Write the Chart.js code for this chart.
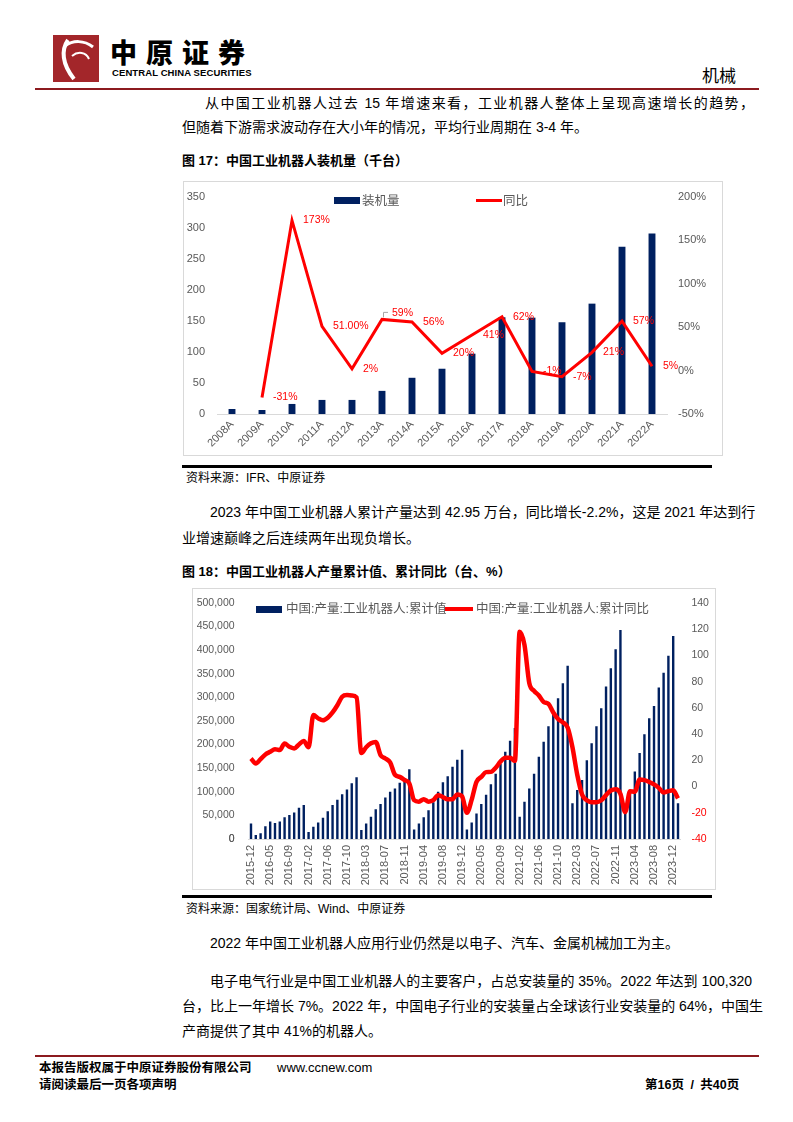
<!DOCTYPE html>
<html>
<head>
<meta charset="utf-8">
<script src="https://cdn.jsdelivr.net/npm/chart.js@4.4.1/dist/chart.umd.min.js"></script>
<style>
  html, body { margin: 0; padding: 0; background: #fff; }
  #page { position: relative; width: 793px; height: 1122px; overflow: hidden; font-family: "Liberation Sans", "Noto Sans CJK SC", sans-serif; color: #000; }
  .abs { position: absolute; white-space: nowrap; }
  .txt { position: absolute; font-size: 14px; line-height: 20px; height: 20px; white-space: nowrap; }
  .just { text-align: justify; text-align-last: justify; }
  .title { position: absolute; font-size: 13px; font-weight: bold; line-height: 18px; white-space: nowrap; }
  .src { position: absolute; font-size: 12px; line-height: 16px; white-space: nowrap; }
  .box { position: absolute; border: 1px solid #d9d9d9; box-sizing: border-box; }
  .rule { position: absolute; background: #000; }
  .leg { position: absolute; font-size: 12.5px; color: #595959; line-height: 16px; white-space: nowrap; }
  canvas { position: absolute; }
</style>
</head>
<body>
<div id="page">
  <!-- header -->
  <svg class="abs" style="left:53px;top:35px" width="46" height="47" viewBox="0 0 46 47">
    <rect width="46" height="47" fill="#a3262a"/>
    <path d="M15 5 C 8 15, 9 29, 21 44" stroke="#fff" stroke-width="4" fill="none"/>
    <path d="M12 11 C 20 5, 31 5, 40 12" stroke="#fff" stroke-width="3" fill="none"/>
    <path d="M19 21 C 25 16, 33 17, 36 24" stroke="#fff" stroke-width="2" fill="none"/>
  </svg>
  <div class="abs" style="left:110px;top:36px;font-family:'Noto Sans CJK SC';font-weight:900;font-size:27px;letter-spacing:9px;line-height:32px">中原证券</div>
  <div class="abs" style="left:112px;top:67px;font-weight:bold;font-size:9.5px;line-height:12px;letter-spacing:0.1px">CENTRAL CHINA SECURITIES</div>
  <div class="abs" style="left:702px;top:65px;font-family:'Noto Sans CJK SC';font-size:17px;line-height:20px">机械</div>
  <div class="abs" style="left:35px;top:88px;width:724px;height:2px;background:#8c1a1f"></div>

  <div class="txt just" style="left:205px;width:549px;top:93px">从中国工业机器人过去 15 年增速来看，工业机器人整体上呈现高速增长的趋势，</div>
  <div class="txt" style="left:182px;top:117px">但随着下游需求波动存在大小年的情况，平均行业周期在 3-4 年。</div>

  <div class="title" style="left:182px;top:152px">图 17：中国工业机器人装机量（千台）</div>
  <div class="box" style="left:183px;top:181px;width:540px;height:275px"></div>
  <canvas id="c1" style="left:184px;top:182px" width="538" height="273"></canvas>
  <div class="abs" style="left:334px;top:197px;width:26px;height:7px;background:#002060"></div>
  <div class="leg" style="left:362px;top:193px">装机量</div>
  <div class="abs" style="left:476px;top:199px;width:26px;height:3px;background:#ff0000"></div>
  <div class="leg" style="left:503px;top:193px">同比</div>
  <div class="rule" style="left:182px;top:465px;width:530px;height:3px"></div>
  <div class="src" style="left:186px;top:470px">资料来源：IFR、中原证券</div>

  <div class="txt just" style="left:210px;width:542px;top:502px">2023 年中国工业机器人累计产量达到 42.95 万台，同比增长-2.2%，这是 2021 年达到行</div>
  <div class="txt" style="left:182px;top:528px">业增速巅峰之后连续两年出现负增长。</div>

  <div class="title" style="left:182px;top:563px">图 18：中国工业机器人产量累计值、累计同比（台、%）</div>
  <div class="box" style="left:192px;top:588px;width:524px;height:302px"></div>
  <canvas id="c2" style="left:193px;top:589px" width="522" height="300"></canvas>
  <div class="abs" style="left:256px;top:606px;width:26px;height:7px;background:#002060"></div>
  <div class="leg" style="left:286px;top:601px">中国:产量:工业机器人:累计值</div>
  <div class="abs" style="left:445px;top:607px;width:28px;height:4px;background:#ff0000"></div>
  <div class="leg" style="left:476px;top:601px">中国:产量:工业机器人:累计同比</div>
  <div class="rule" style="left:182px;top:895px;width:530px;height:3px"></div>
  <div class="src" style="left:186px;top:901px">资料来源：国家统计局、Wind、中原证券</div>

  <div class="txt" style="left:210px;top:933px">2022 年中国工业机器人应用行业仍然是以电子、汽车、金属机械加工为主。</div>
  <div class="txt just" style="left:210px;width:542px;top:971px">电子电气行业是中国工业机器人的主要客户，占总安装量的 35%。2022 年达到 100,320</div>
  <div class="txt just" style="left:182px;width:574px;top:996px">台，比上一年增长 7%。2022 年，中国电子行业的安装量占全球该行业安装量的 64%，中国生</div>
  <div class="txt" style="left:182px;top:1021px">产商提供了其中 41%的机器人。</div>

  <!-- footer -->
  <div class="abs" style="left:35px;top:1055px;width:724px;height:2px;background:#8c1a1f"></div>
  <div class="abs" style="left:39px;top:1060px;font-size:12.5px;line-height:16px;font-weight:bold">本报告版权属于中原证券股份有限公司</div>
  <div class="abs" style="left:277px;top:1060px;font-size:13px;line-height:16px">www.ccnew.com</div>
  <div class="abs" style="left:39px;top:1077px;font-size:12.5px;line-height:16px;font-weight:bold">请阅读最后一页各项声明</div>
  <div class="abs" style="left:645px;top:1077px;font-size:12.5px;line-height:16px;font-weight:bold;word-spacing:3px">第16页 / 共40页</div>
</div>

<script>
// 图17 装机量（千台）与同比
const years = ['2008A','2009A','2010A','2011A','2012A','2013A','2014A','2015A','2016A','2017A','2018A','2019A','2020A','2021A','2022A'];
const installs = [8.1, 6.5, 16.2, 22.7, 22.7, 37.3, 58.4, 73, 97.3, 156, 155.4, 148, 178, 269.6, 291];
const installYoy = [null, -31, 173, 51, 2, 59, 56, 20, 41, 62, -1, -7, 21, 57, 5];
const installYoyText = ['', '-31%', '173%', '51.00%', '2%', '59%', '56%', '20%', '41%', '62%', '-1%', '-7%', '21%', '57%', '5%'];

// 图18 产量累计值（台）与累计同比（%）
const prodMonths = [
  '2015-12',
  '2016-02','2016-03','2016-04','2016-05','2016-06','2016-07','2016-08','2016-09','2016-10','2016-11','2016-12',
  '2017-02','2017-03','2017-04','2017-05','2017-06','2017-07','2017-08','2017-09','2017-10','2017-11','2017-12',
  '2018-02','2018-03','2018-04','2018-05','2018-06','2018-07','2018-08','2018-09','2018-10','2018-11','2018-12',
  '2019-02','2019-03','2019-04','2019-05','2019-06','2019-07','2019-08','2019-09','2019-10','2019-11','2019-12',
  '2020-02','2020-03','2020-04','2020-05','2020-06','2020-07','2020-08','2020-09','2020-10','2020-11','2020-12',
  '2021-02','2021-03','2021-04','2021-05','2021-06','2021-07','2021-08','2021-09','2021-10','2021-11','2021-12',
  '2022-02','2022-03','2022-04','2022-05','2022-06','2022-07','2022-08','2022-09','2022-10','2022-11','2022-12',
  '2023-02','2023-03','2023-04','2023-05','2023-06','2023-07','2023-08','2023-09','2023-10','2023-11','2023-12',
  '2024-02'
];
const prodTotal = [
  33000,
  8500, 12000, 27000, 37000, 34000, 37000, 46000, 51000, 56000, 66000, 72000,
  15000, 26000, 35000, 45000, 59000, 72000, 83000, 95000, 105000, 118000, 131000,
  19000, 33000, 47000, 63000, 74000, 88000, 100000, 107000, 119000, 129000, 148000,
  20000, 33000, 46000, 61000, 78000, 100000, 120000, 133000, 153000, 168000, 189000,
  20000, 35000, 54000, 74000, 94000, 116000, 138000, 159000, 185000, 208000, 235000,
  47000, 79000, 107000, 138000, 174000, 206000, 239000, 270000, 298000, 330000, 367000,
  76000, 104000, 125000, 167000, 203000, 239000, 277000, 323000, 362000, 402000, 443000,
  60000, 103000, 143000, 182000, 222000, 256000, 282000, 321000, 352000, 388000, 430000,
  76000
];
const prodYoy = [
  21.4,
  17.6, 20.9, 24.5, 26.5, 28.5, 27.8, 32.9, 30.3, 29.1, 32.1, 34.7,
  30, 54.5, 52, 50.5, 52.5, 56.5, 62, 68.5, 69.8, 69.5, 68,
  25.5, 30, 33, 34, 24, 21.4, 18.5, 9, 7.4, 5, 2.4,
  -10.4, -11.5, -9.6, -11.5, -10.4, -6.6, -8, -9.6, -9.6, -6, -7.5,
  -20, -10, 3.6, 7.4, 11, 11.2, 14.3, 19, 22, 22, 19.6,
  118, 108, 79, 73, 69.5, 64.5, 63, 56.5, 51.5, 49, 45,
  30, 9, -6, -10.5, -12, -12, -10.5, -6.5, -3, -2, -5.5,
  -19.5, -3.5, -4, 5.4, 4.9, 3.5, 1.6, -1, -4.5, -3.5, -2.8,
  -9
];

const NAVY = '#002060';
const RED = '#ff0000';
const GREY = '#595959';
Chart.defaults.font.family = '"Liberation Sans", "Noto Sans CJK SC", sans-serif';
Chart.defaults.color = GREY;

// keep the plot area where the box says, the labels may hang over it
function fixWidth(w){
  return function(s){ s.width = w; s.paddingTop = 0; s.paddingBottom = 0; };
}

const yoyLabelPlugin = {
  id: 'yoyLabels',
  afterDatasetsDraw(chart) {
    const meta = chart.getDatasetMeta(1);
    const ctx = chart.ctx;
    ctx.save();
    ctx.font = '10.5px "Liberation Sans", sans-serif';
    ctx.fillStyle = RED;
    ctx.textBaseline = 'middle';
    meta.data.forEach(function(pt, i){
      if (!installYoyText[i]) return;
      if (i == 5) {
        ctx.strokeStyle = '#a6a6a6';
        ctx.lineWidth = 1;
        ctx.beginPath();
        ctx.moveTo(pt.x + 1.5, pt.y - 2);
        ctx.lineTo(pt.x + 1.5, pt.y - 7);
        ctx.lineTo(pt.x + 6, pt.y - 7);
        ctx.stroke();
        ctx.fillText(installYoyText[i], pt.x + 10, pt.y - 6);
      } else {
        ctx.fillText(installYoyText[i], pt.x + 11, pt.y);
      }
    });
    ctx.restore();
  }
};

// the bottom "0" of the left axis did not show on chart 2, put it back from the scale itself
const zeroTickPlugin = {
  id: 'zeroTick',
  afterDraw(chart) {
    const s = chart.scales.y;
    const ctx = chart.ctx;
    ctx.save();
    ctx.font = '10.5px "Liberation Sans", sans-serif';
    ctx.fillStyle = GREY;
    ctx.textAlign = 'right';
    ctx.textBaseline = 'middle';
    ctx.fillText('0', s.right - 14, s.getPixelForValue(0));
    ctx.restore();
  }
};

new Chart(document.getElementById('c1'), {
  data: {
    labels: years,
    datasets: [
      { type: 'bar', label: '装机量', data: installs, yAxisID: 'y', backgroundColor: NAVY,
        barPercentage: 0.23, categoryPercentage: 1, order: 2 },
      { type: 'line', label: '同比', data: installYoy, yAxisID: 'y1', borderColor: RED, borderWidth: 3,
        pointRadius: 0, tension: 0, order: 1 }
    ]
  },
  options: {
    responsive: false, animation: false,
    layout: { padding: { top: 15, left: 0, right: 0, bottom: 0 } },
    plugins: { legend: { display: false }, tooltip: { enabled: false } },
    scales: {
      x: { offset: true, grid: { display: false, drawTicks: false }, border: { display: true, color: '#d9d9d9' },
           ticks: { autoSkip: false, minRotation: 45, maxRotation: 45, padding: 4, font: { size: 11 } },
           afterFit: function(s){ s.height = 41; } },
      y: { position: 'left', min: 0, max: 350, grid: { display: false, drawTicks: false }, border: { display: false },
           ticks: { stepSize: 50, padding: 12, autoSkip: false, font: { size: 11 } },
           afterFit: fixWidth(33) },
      y1: { position: 'right', min: -50, max: 200, grid: { display: false, drawTicks: false }, border: { display: false },
            ticks: { stepSize: 50, padding: 11, autoSkip: false, font: { size: 11 }, callback: function(v){ return v + '%'; } },
            afterFit: fixWidth(55) }
    }
  },
  plugins: [yoyLabelPlugin]
});

new Chart(document.getElementById('c2'), {
  data: {
    labels: prodMonths,
    datasets: [
      { type: 'bar', label: '中国:产量:工业机器人:累计值', data: prodTotal, yAxisID: 'y', backgroundColor: NAVY,
        barPercentage: 0.5, categoryPercentage: 1, order: 2 },
      { type: 'line', label: '中国:产量:工业机器人:累计同比', data: prodYoy, yAxisID: 'y1', borderColor: RED,
        borderWidth: 4.5, pointRadius: 0, cubicInterpolationMode: 'monotone', order: 1 }
    ]
  },
  options: {
    responsive: false, animation: false,
    layout: { padding: { top: 14, left: 0, right: 0, bottom: 0 } },
    plugins: { legend: { display: false }, tooltip: { enabled: false } },
    scales: {
      x: { offset: true, grid: { display: false, drawTicks: false }, border: { display: true, color: '#d9d9d9' },
           ticks: { autoSkip: false, minRotation: 90, maxRotation: 90, padding: 6, font: { size: 11 },
                    callback: function(v, i){ return i % 4 === 0 ? this.getLabelForValue(v) : ''; } },
           afterFit: function(s){ s.height = 50; } },
      y: { position: 'left', min: 0, max: 500000, grid: { display: false, drawTicks: false }, border: { display: false },
           ticks: { stepSize: 50000, padding: 14, autoSkip: false, z: 1, font: { size: 10.5 },
                    callback: function(v){ return Number(v).toLocaleString('en-US'); } },
           afterFit: fixWidth(55.6) },
      y1: { position: 'right', min: -40, max: 140, grid: { display: false, drawTicks: false }, border: { display: false },
            ticks: { stepSize: 20, padding: 11, autoSkip: false, font: { size: 10.5 },
                     color: function(c){ return c.tick && c.tick.value < 0 ? RED : GREY; } },
            afterFit: fixWidth(34.6) }
    }
  },
  plugins: [zeroTickPlugin]
});
</script>
</body>
</html>
